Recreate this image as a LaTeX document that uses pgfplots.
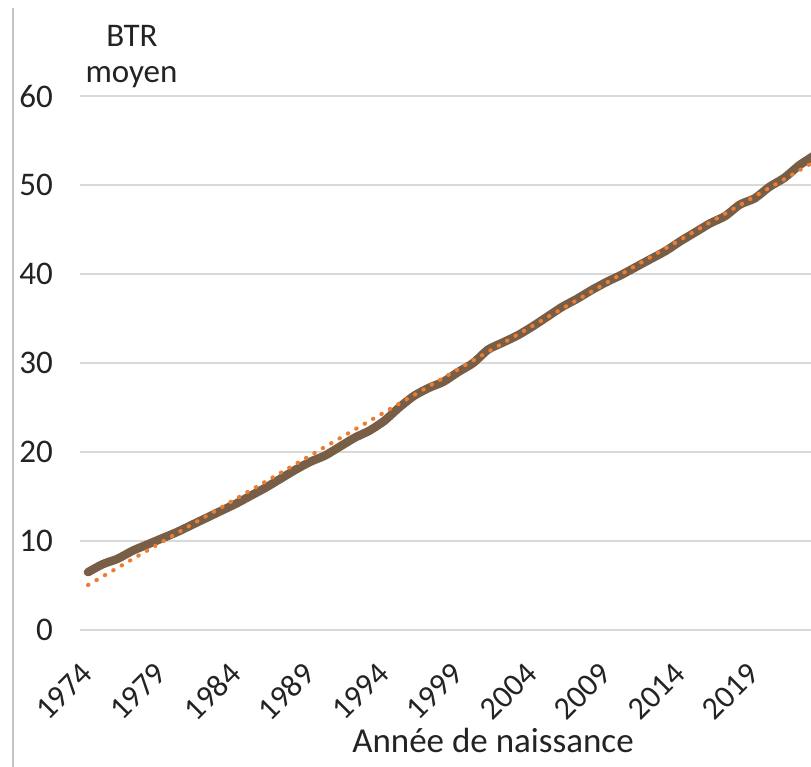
\documentclass[border=0pt]{standalone}
\usepackage{pgfplots}
\pgfplotsset{compat=1.18}
\usepackage{fontspec}
\setmainfont{Carlito}
\definecolor{brn}{RGB}{120,94,70}
\definecolor{org}{RGB}{237,125,49}
\definecolor{grd}{RGB}{217,217,217}
\definecolor{txt}{RGB}{35,35,35}
\begin{document}
\fontsize{33}{40}\selectfont
\begin{tikzpicture}
\useasboundingbox (0,0) rectangle (811pt,767pt);
\fill[white] (0,0) rectangle (811pt,767pt);
\draw[gray!45, line width=1.5pt] (13pt,0) -- (13pt,759pt);
\begin{axis}[
 at={(80pt,137pt)}, anchor=south west,
 scale only axis, width=731pt, height=534pt,
 xmin=1973.46, xmax=2022.8, ymin=0, ymax=60,
 ytick={0,10,...,60}, xtick={1974,1979,...,2019},
 ymajorgrids, major grid style={draw=grd, line width=2pt},
 axis line style={draw=none}, major tick length=0pt,
 /pgf/number format/assume math mode=true,
 /pgf/number format/1000 sep={},
 ticklabel style={text=txt},
 yticklabel style={font=\fontsize{33}{40}\selectfont, anchor=east, inner sep=0pt, xshift=-27pt},
 xticklabel style={font=\fontsize{32}{38}\selectfont, xshift=-1pt, yshift=-38.5pt, rotate=45, anchor=east, inner sep=0pt},
 clip=true,
]
\addplot[brn, line width=8.5pt, line join=round, line cap=round, smooth, tension=0.4] table {
x y
1974 6.5
1975 7.4
1976 8.0
1977 8.9
1978 9.6
1979 10.3
1980 11.0
1981 11.8
1982 12.6
1983 13.4
1984 14.2
1985 15.1
1986 16.0
1987 17.0
1988 18.0
1989 18.9
1990 19.6
1991 20.6
1992 21.6
1993 22.4
1994 23.5
1995 25.0
1996 26.3
1997 27.2
1998 27.9
1999 29.0
2000 30.0
2001 31.5
2002 32.3
2003 33.1
2004 34.1
2005 35.2
2006 36.3
2007 37.2
2008 38.2
2009 39.1
2010 39.9
2011 40.8
2012 41.7
2013 42.6
2014 43.7
2015 44.7
2016 45.7
2017 46.5
2018 47.8
2019 48.5
2020 49.8
2021 50.8
2022 52.2
2023 53.3
};
\addplot[org, line width=4pt, line cap=round, dash pattern=on 0.6pt off 9.1pt] coordinates {(1974,5.05) (2023,52.6)};
\end{axis}
\node[anchor=base, text=txt, inner sep=0pt] at (132pt,720pt) {BTR};
\node[anchor=base, text=txt, inner sep=0pt] at (131.5pt,684pt) {moyen};
\node[anchor=base, text=txt, inner sep=0pt, font=\fontsize{35}{42}\selectfont] at (493pt,14pt) {Année de naissance};
\end{tikzpicture}
\end{document}
